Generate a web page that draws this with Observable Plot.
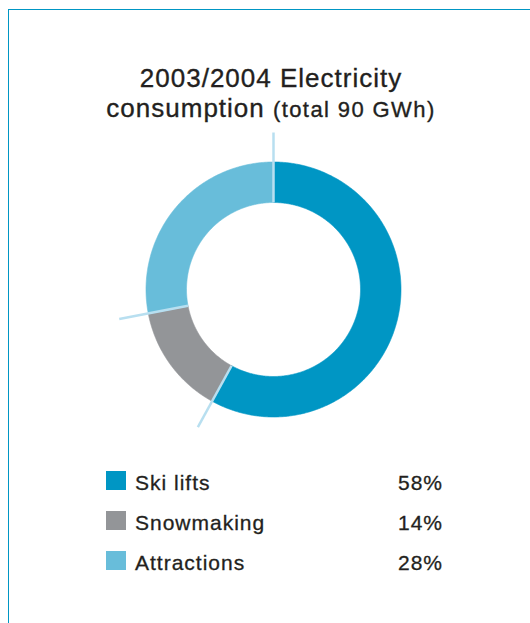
<!DOCTYPE html>
<html>
<head>
<meta charset="utf-8">
<script src="https://cdn.jsdelivr.net/npm/d3@7"></script>
<script src="https://cdn.jsdelivr.net/npm/@observablehq/plot@0.6"></script>
<style>
  body { margin: 0; background: #fff; font-family: "Liberation Sans", Arial, Helvetica, sans-serif; color: #231f20; }
  #frame { position: absolute; left: 8px; top: 9px; width: 560px; height: 660px; border-top: 1.5px solid #0096c4; border-left: 1.5px solid #0096c4; }
  #title { position: absolute; left: 10px; width: 522px; top: 63px; text-align: center; font-size: 26px; line-height: 30px; letter-spacing: 1px; -webkit-text-stroke: 0.35px #231f20; }
  #title .small { font-size: 22px; letter-spacing: 1.4px; }
  #chart { position: absolute; left: 0; top: 130px; }
  .row { position: absolute; left: 0; width: 530px; height: 24px; font-size: 21px; line-height: 24px; letter-spacing: 1px; -webkit-text-stroke: 0.3px #231f20; }
  .sw { position: absolute; left: 106px; top: 0; width: 20px; height: 19px; }
  .lab { position: absolute; left: 135px; top: 0; }
  .pct { position: absolute; right: 87px; top: 0; text-align: right; }
</style>
</head>
<body>
<div id="frame"></div>
<div id="title"></div>
<div id="chart"></div>
<div id="legend"></div>
<script>
const titleLine1 = "2003/2004 Electricity";
const titleLine2 = "consumption";
const titleLine2Small = "(total 90 GWh)";
const categories = ["Ski lifts", "Snowmaking", "Attractions"];
const shares = [58, 14, 28];
const shareLabels = ["58%", "14%", "28%"];
const colors = ["#0096c4", "#939598", "#68bdda"];

// Title
const t = document.getElementById("title");
const l1 = document.createElement("div"); l1.textContent = titleLine1; t.appendChild(l1);
const l2 = document.createElement("div");
l2.appendChild(document.createTextNode(titleLine2 + " "));
const sm = document.createElement("span"); sm.className = "small"; sm.textContent = titleLine2Small;
l2.appendChild(sm); t.appendChild(l2);

// Donut geometry (fractions of the leader-line radius)
const rOut = 127.5 / 157, rIn = 87 / 157, rLead = 1;
const total = d3.sum(shares);
let acc = 0;
const arcs = categories.map((cat, i) => {
  const a0 = acc / total * 2 * Math.PI;
  acc += shares[i];
  const a1 = acc / total * 2 * Math.PI;
  return {cat, a0, a1};
});
const ringPts = arcs.flatMap(({cat, a0, a1}) => {
  const n = Math.max(2, Math.ceil((a1 - a0) / (Math.PI / 360)));
  const pts = [];
  for (let k = 0; k <= n; k++) { const a = a0 + (a1 - a0) * k / n; pts.push({cat, x: rOut * Math.sin(a), y: rOut * Math.cos(a)}); }
  for (let k = n; k >= 0; k--) { const a = a0 + (a1 - a0) * k / n; pts.push({cat, x: rIn * Math.sin(a), y: rIn * Math.cos(a)}); }
  return pts;
});

const cx = 273, cy = 159, R = 157;
const plot = Plot.plot({
  width: 530, height: 310, margin: 0,
  x: {domain: [-1, 1], range: [cx - R, cx + R], axis: null},
  y: {domain: [-1, 1], range: [cy + R, cy - R], axis: null},
  color: {domain: categories, range: colors},
  marks: [
    Plot.line(ringPts, {x: "x", y: "y", z: "cat", fill: "cat", stroke: "cat", strokeWidth: 0.6, curve: "linear-closed"}),
    Plot.link(arcs, {
      x1: d => rIn * Math.sin(d.a0), y1: d => rIn * Math.cos(d.a0),
      x2: d => rLead * Math.sin(d.a0), y2: d => rLead * Math.cos(d.a0),
      stroke: "#b8dff0", strokeWidth: 2.5
    })
  ]
});
document.getElementById("chart").appendChild(plot);

// Legend
const lg = document.getElementById("legend");
categories.forEach((c, i) => {
  const row = document.createElement("div");
  row.className = "row";
  row.style.top = (471 + 40 * i) + "px";
  const sw = document.createElement("div"); sw.className = "sw"; sw.style.background = colors[i];
  const lab = document.createElement("div"); lab.className = "lab"; lab.textContent = c;
  const pct = document.createElement("div"); pct.className = "pct"; pct.textContent = shareLabels[i];
  row.appendChild(sw); row.appendChild(lab); row.appendChild(pct);
  lg.appendChild(row);
});
</script>
</body>
</html>
